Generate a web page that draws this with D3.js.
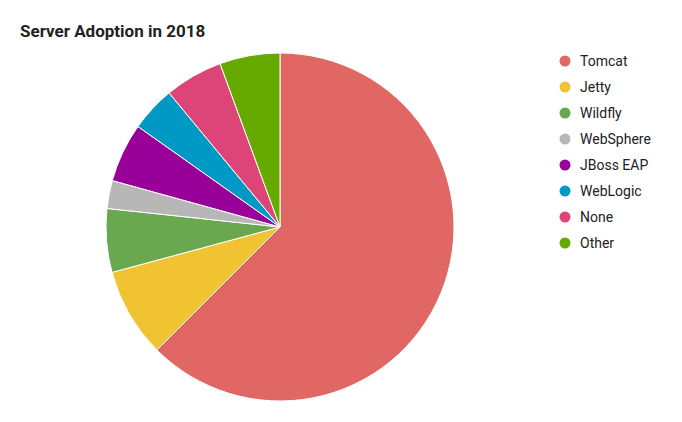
<!DOCTYPE html>
<html>
<head>
<meta charset="utf-8">
<script src="https://cdn.jsdelivr.net/npm/d3@7"></script>
<style>body{margin:0;background:#fff;font-family:Roboto,sans-serif;}</style>
</head>
<body>
<script>
const servers = ["Tomcat", "Jetty", "Wildfly", "WebSphere", "JBoss EAP", "WebLogic", "None", "Other"];
const shares = [62.5, 8.3, 5.9, 2.6, 5.5, 4.2, 5.4, 5.6];
const colours = ["#e06763", "#f1c232", "#6aa84f", "#b7b7b7", "#990099", "#0099c6", "#dd4477", "#66aa00"];

const svg = d3.select("body").append("svg")
    .attr("width", 682)
    .attr("height", 422);

svg.append("text")
    .attr("x", 20).attr("y", 37)
    .attr("font-size", "17px")
    .attr("font-weight", "bold")
    .attr("fill", "#222")
    .text("Server Adoption in 2018");

const pie = d3.pie().sort(null).value((d, i) => shares[i]);
const arc = d3.arc().innerRadius(0).outerRadius(174);

svg.append("g")
    .attr("transform", "translate(280,227)")
    .selectAll("path")
    .data(pie(servers))
    .enter()
    .append("path")
    .attr("d", arc)
    .attr("fill", (d, i) => colours[i])
    .attr("stroke", "#fff")
    .attr("stroke-width", 1);

const y = d3.scalePoint().domain(servers).range([61, 243]);

const legend = svg.selectAll(".leg")
    .data(servers)
    .enter()
    .append("g")
    .attr("transform", d => `translate(565,${y(d)})`);

legend.append("circle")
    .attr("r", 5.5)
    .attr("fill", (d, i) => colours[i]);

legend.append("text")
    .attr("x", 15).attr("y", 5)
    .attr("font-size", "14px")
    .attr("fill", "#222")
    .text(d => d);
</script>
</body>
</html>
